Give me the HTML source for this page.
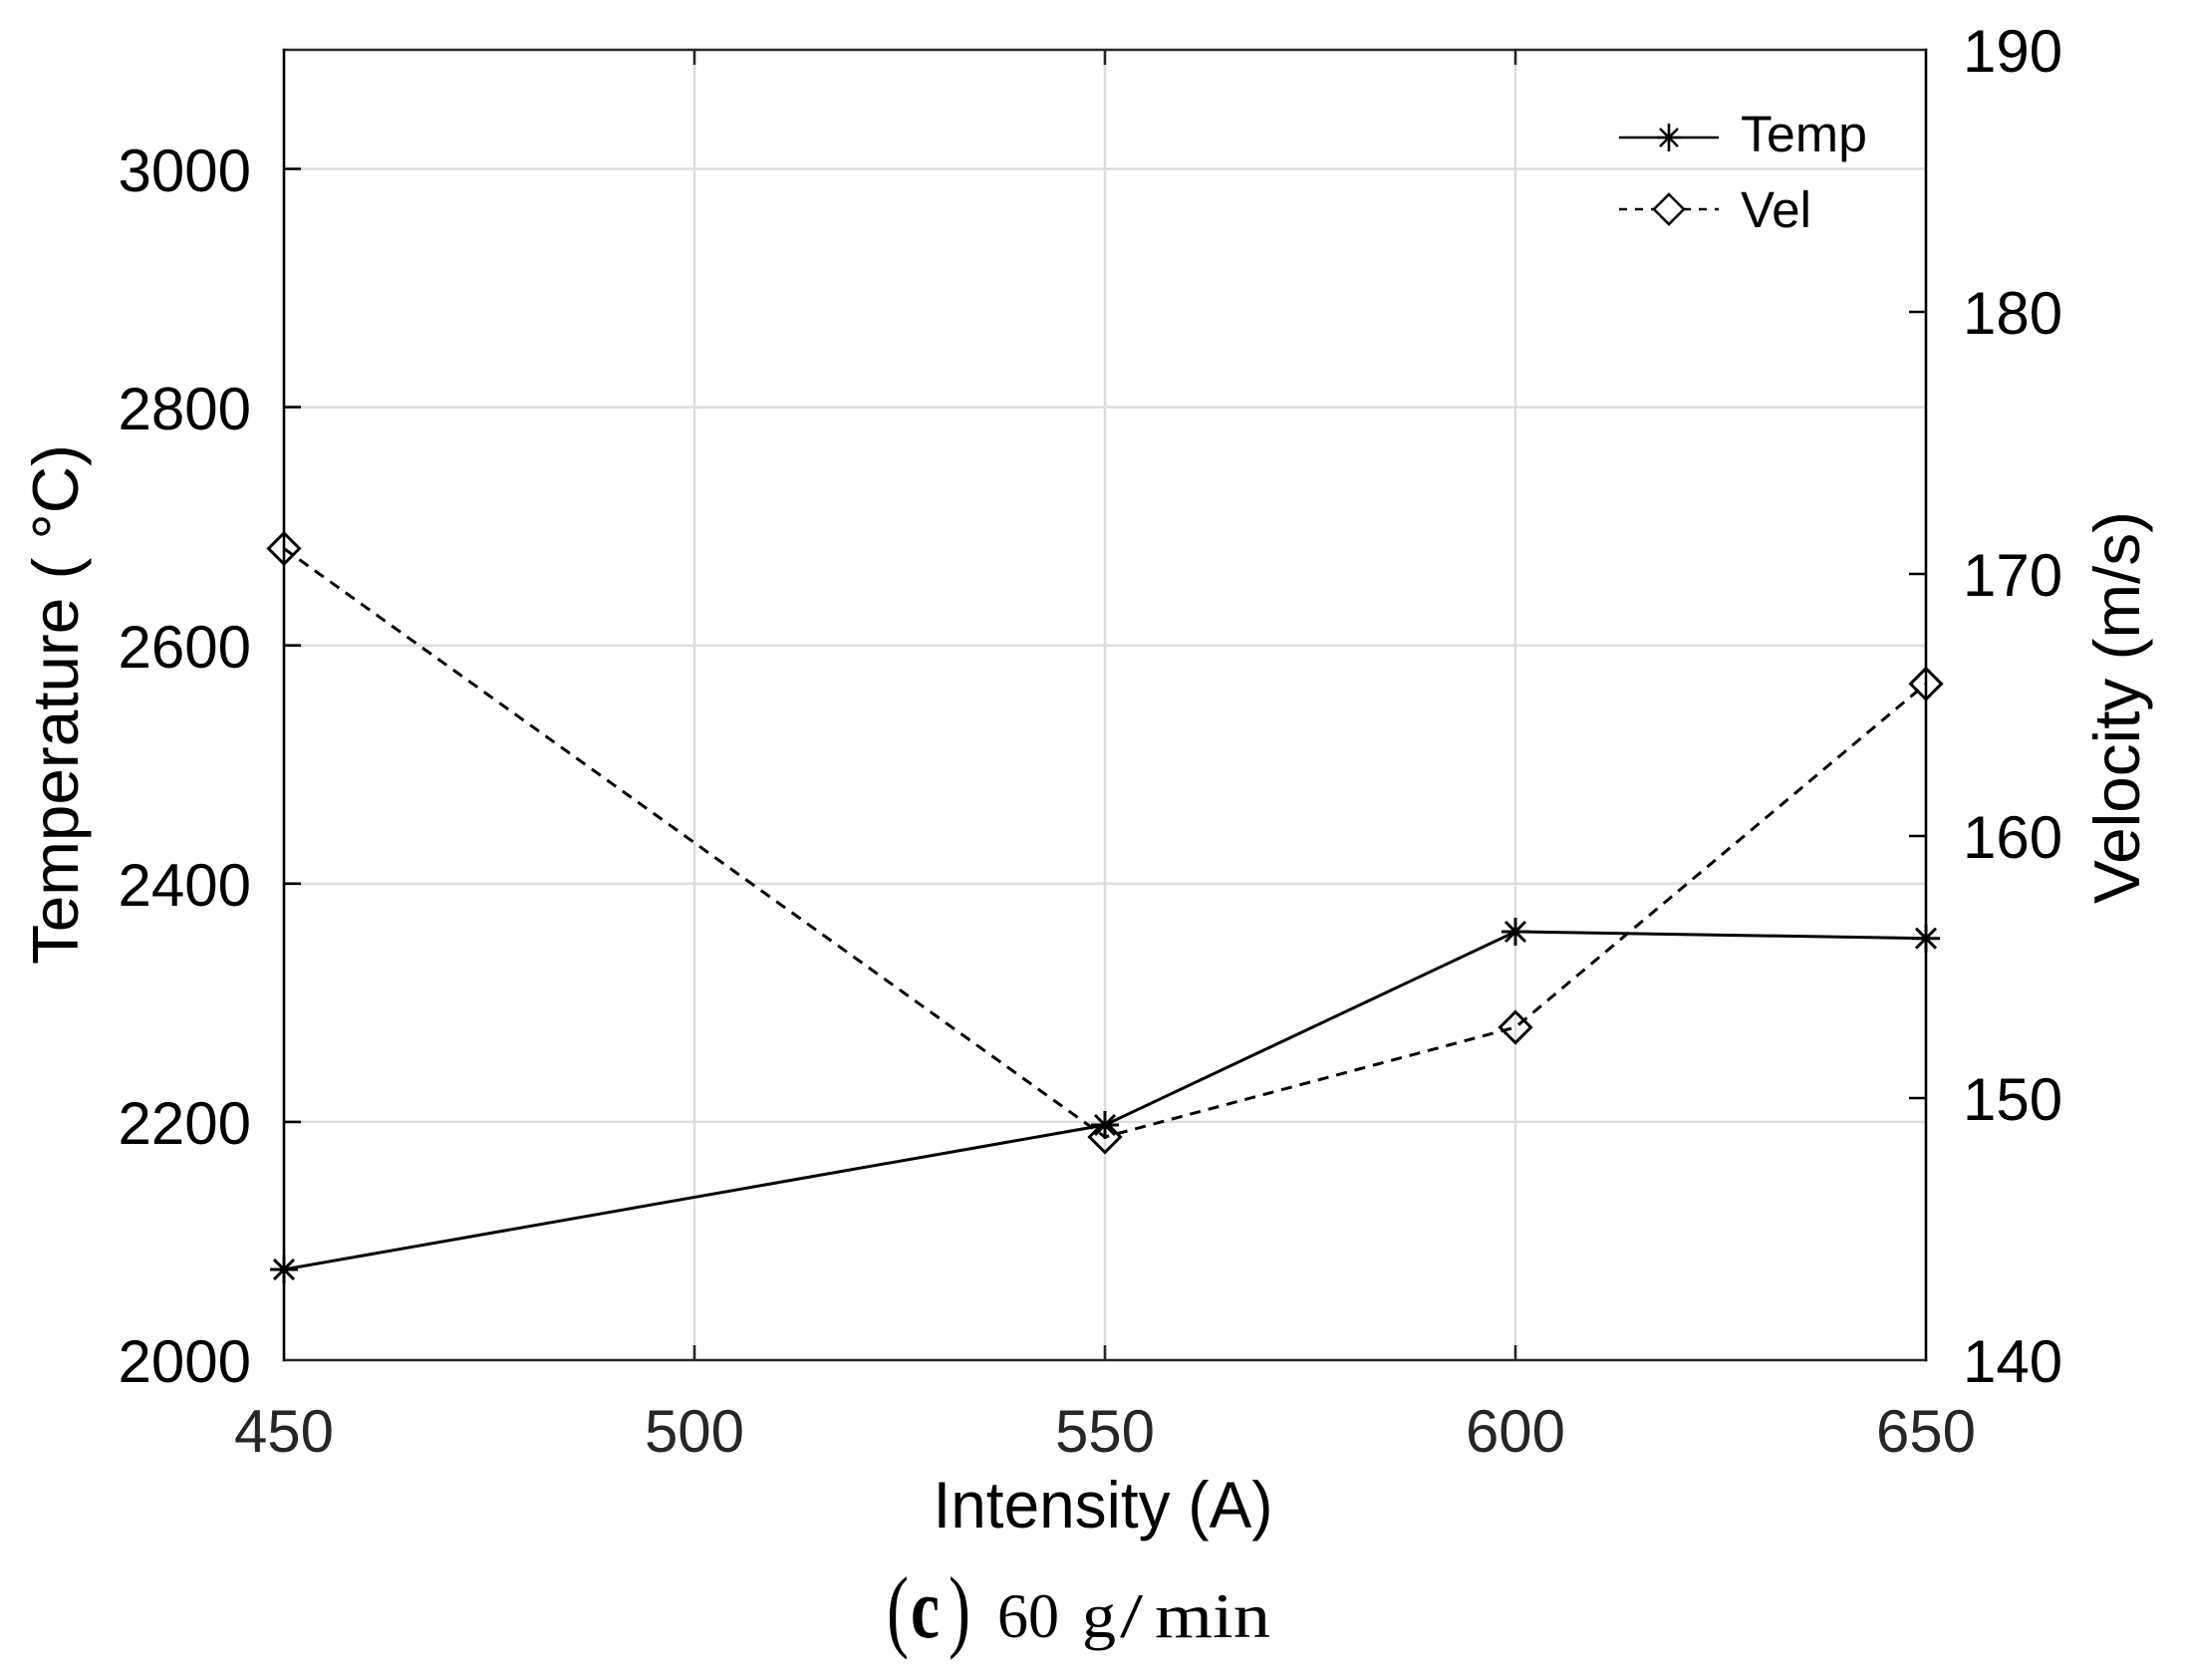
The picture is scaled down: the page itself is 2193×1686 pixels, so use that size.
<!DOCTYPE html>
<html>
<head>
<meta charset="utf-8">
<style>
  html, body { margin: 0; padding: 0; background: #ffffff; }
  svg { display: block; }
  .sans { font-family: "Liberation Sans", Arial, Helvetica, sans-serif; }
  .serif { font-family: "Liberation Serif", "Times New Roman", serif; }
</style>
</head>
<body>
<svg width="2193" height="1686" viewBox="0 0 2193 1686" xmlns="http://www.w3.org/2000/svg">
  <rect x="0" y="0" width="2193" height="1686" fill="#ffffff"/>

  <!-- grid lines -->
  <g stroke="#dcdcdc" stroke-width="2.5" fill="none">
    <line x1="285" y1="1125.9" x2="1933" y2="1125.9"/>
    <line x1="285" y1="886.8" x2="1933" y2="886.8"/>
    <line x1="285" y1="647.7" x2="1933" y2="647.7"/>
    <line x1="285" y1="408.6" x2="1933" y2="408.6"/>
    <line x1="285" y1="169.5" x2="1933" y2="169.5"/>
    <line x1="697" y1="50" x2="697" y2="1365"/>
    <line x1="1109" y1="50" x2="1109" y2="1365"/>
    <line x1="1521" y1="50" x2="1521" y2="1365"/>
  </g>

  <!-- axes box -->
  <g stroke-width="2.6" fill="none" stroke-linecap="square">
    <line x1="285" y1="1365" x2="1933" y2="1365" stroke="#262626"/>
    <line x1="285" y1="50" x2="1933" y2="50" stroke="#262626"/>
    <line x1="285" y1="50" x2="285" y2="1365" stroke="#000"/>
    <line x1="1933" y1="50" x2="1933" y2="1365" stroke="#000"/>
  </g>

  <!-- x ticks (bottom and top) -->
  <g stroke="#262626" stroke-width="2.6">
    <line x1="697" y1="1365" x2="697" y2="1350"/>
    <line x1="1109" y1="1365" x2="1109" y2="1350"/>
    <line x1="1521" y1="1365" x2="1521" y2="1350"/>
    <line x1="697" y1="50" x2="697" y2="65"/>
    <line x1="1109" y1="50" x2="1109" y2="65"/>
    <line x1="1521" y1="50" x2="1521" y2="65"/>
  </g>

  <!-- left y ticks -->
  <g stroke="#000" stroke-width="2.6">
    <line x1="285" y1="1125.9" x2="302" y2="1125.9"/>
    <line x1="285" y1="886.8" x2="302" y2="886.8"/>
    <line x1="285" y1="647.7" x2="302" y2="647.7"/>
    <line x1="285" y1="408.6" x2="302" y2="408.6"/>
    <line x1="285" y1="169.5" x2="302" y2="169.5"/>
  </g>

  <!-- right y ticks -->
  <g stroke="#000" stroke-width="2.6">
    <line x1="1933" y1="1102" x2="1916" y2="1102"/>
    <line x1="1933" y1="839" x2="1916" y2="839"/>
    <line x1="1933" y1="576" x2="1916" y2="576"/>
    <line x1="1933" y1="313" x2="1916" y2="313"/>
  </g>

  <!-- Temp series (solid) -->
  <polyline points="285,1274 1109,1129 1521,935 1933,941.7" fill="none" stroke="#000" stroke-width="3"/>
  <!-- Vel series (dashed) -->
  <polyline points="285,550.5 1109,1141 1521,1031 1933,686.3" fill="none" stroke="#000" stroke-width="3" stroke-dasharray="11 8"/>

  <!-- star markers -->
  <g stroke="#000" stroke-width="3" fill="none">
    <path d="M271,1274 h28 M285,1260 v28 M275,1264 l20,20 M295,1264 l-20,20"/>
    <path d="M1095,1129 h28 M1109,1115 v28 M1099,1119 l20,20 M1119,1119 l-20,20"/>
    <path d="M1507,935 h28 M1521,921 v28 M1511,925 l20,20 M1531,925 l-20,20"/>
    <path d="M1919,941.7 h28 M1933,927.7 v28 M1923,931.7 l20,20 M1943,931.7 l-20,20"/>
  </g>

  <!-- diamond markers -->
  <g stroke="#000" stroke-width="3" fill="none">
    <path d="M285,535 L300.5,550.5 L285,566 L269.5,550.5 Z"/>
    <path d="M1109,1125.5 L1124.5,1141 L1109,1156.5 L1093.5,1141 Z"/>
    <path d="M1521,1015.5 L1536.5,1031 L1521,1046.5 L1505.5,1031 Z"/>
    <path d="M1933,670.8 L1948.5,686.3 L1933,701.8 L1917.5,686.3 Z"/>
  </g>

  <!-- legend -->
  <g stroke="#000" stroke-width="2.6" fill="none">
    <line x1="1625" y1="138" x2="1725" y2="138"/>
    <path d="M1663,138 h24 M1675,124 v28 M1666,129 l18,18 M1684,129 l-18,18" stroke-width="2.6"/>
    <line x1="1625" y1="210" x2="1725" y2="210" stroke-dasharray="8 8"/>
    <path d="M1675,195 L1690,210 L1675,225 L1660,210 Z" fill="#fff"/>
  </g>
  <g class="sans" font-size="51" fill="#000">
    <text x="1747" y="152" textLength="127" lengthAdjust="spacingAndGlyphs">Temp</text>
    <text x="1747" y="228">Vel</text>
  </g>

  <!-- left tick labels -->
  <g class="sans" font-size="60" fill="#000" text-anchor="end">
    <text x="252" y="1387">2000</text>
    <text x="252" y="1148">2200</text>
    <text x="252" y="909">2400</text>
    <text x="252" y="670">2600</text>
    <text x="252" y="431">2800</text>
    <text x="252" y="192">3000</text>
  </g>

  <!-- right tick labels -->
  <g class="sans" font-size="60" fill="#000" text-anchor="start">
    <text x="1970" y="1387">140</text>
    <text x="1970" y="1124">150</text>
    <text x="1970" y="861">160</text>
    <text x="1970" y="598">170</text>
    <text x="1970" y="335">180</text>
    <text x="1970" y="72">190</text>
  </g>

  <!-- x tick labels -->
  <g class="sans" font-size="60" fill="#262626" text-anchor="middle">
    <text x="285" y="1457">450</text>
    <text x="697" y="1457">500</text>
    <text x="1109" y="1457">550</text>
    <text x="1521" y="1457">600</text>
    <text x="1933" y="1457">650</text>
  </g>

  <!-- axis labels -->
  <text class="sans" x="1107" y="1533" font-size="66" fill="#000" text-anchor="middle" textLength="341" lengthAdjust="spacingAndGlyphs">Intensity (A)</text>
  <text class="sans" font-size="65" fill="#000" text-anchor="middle" transform="translate(78,707) rotate(-90)" textLength="522" lengthAdjust="spacingAndGlyphs">Temperature ( °C)</text>
  <text class="sans" font-size="65" fill="#000" text-anchor="middle" transform="translate(2147,710) rotate(-90)" textLength="394" lengthAdjust="spacingAndGlyphs">Velocity (m/s)</text>

  <!-- caption -->
  <g class="serif" fill="#000">
    <text x="890" y="1646" font-size="92" textLength="22" lengthAdjust="spacingAndGlyphs">(</text>
    <text x="914" y="1643" font-size="86" font-weight="bold" textLength="29" lengthAdjust="spacingAndGlyphs">c</text>
    <text x="952" y="1646" font-size="92" textLength="22" lengthAdjust="spacingAndGlyphs">)</text>
    <text x="1001" y="1643" font-size="64" textLength="62" lengthAdjust="spacingAndGlyphs">60</text>
    <text x="1086" y="1643" font-size="64" textLength="34" lengthAdjust="spacingAndGlyphs">g</text>
    <text x="1124" y="1643" font-size="64" textLength="23" lengthAdjust="spacingAndGlyphs">/</text>
    <text x="1159" y="1643" font-size="64" textLength="116" lengthAdjust="spacingAndGlyphs">min</text>
  </g>
</svg>
</body>
</html>
